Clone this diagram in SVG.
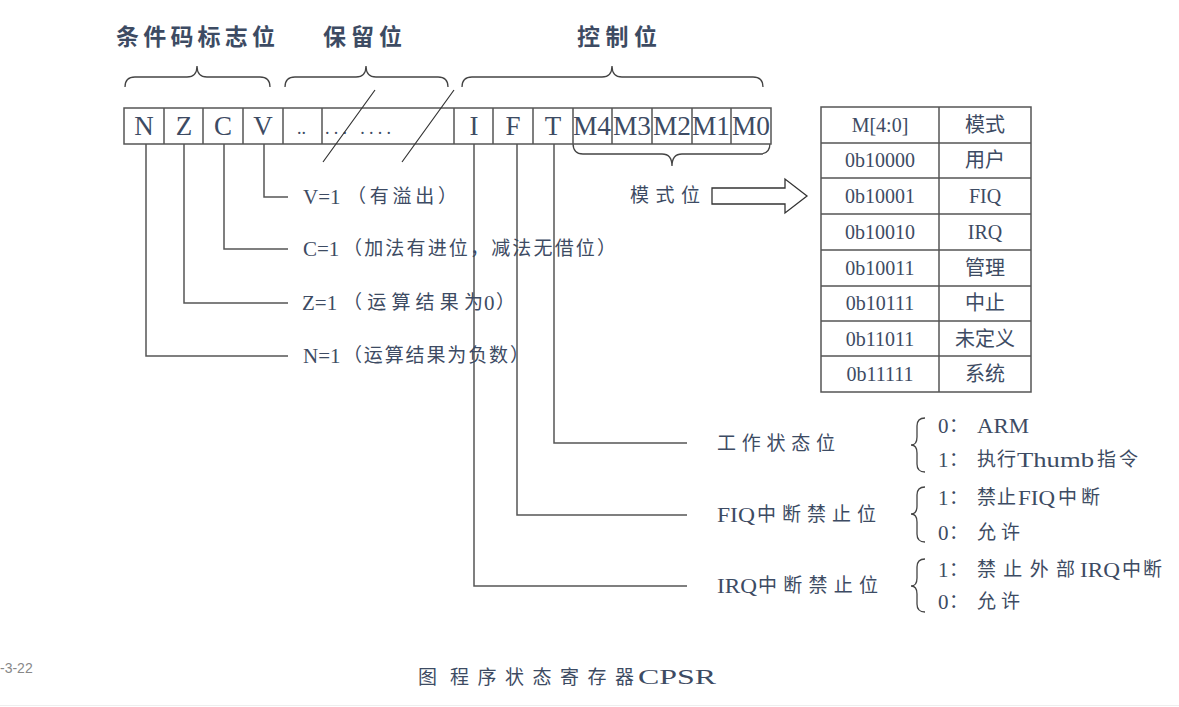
<svg xmlns="http://www.w3.org/2000/svg" width="1179" height="707" viewBox="0 0 1179 707">
<style>
.t{font-family:"Liberation Serif","Noto Sans CJK SC",serif;fill:#3d4b63}
.c{font-family:"Noto Sans CJK SC",sans-serif;fill:#3d4b63;font-size:19px}
.la{font-family:"Liberation Serif",serif;fill:#3d4b63;font-size:21px}
.h{font-family:"Noto Sans CJK SC",sans-serif;font-weight:bold;fill:#3d4b63;font-size:23px}
.cell{fill:#fff;stroke:#555;stroke-width:1.5}
.ln{fill:none;stroke:#555;stroke-width:1.5}
.br{fill:none;stroke:#444;stroke-width:1.3}
.bit{font-size:27px;text-anchor:middle}
.tb{font-size:20px;text-anchor:middle}
</style>
<rect width="1179" height="707" fill="#fff"/>
<g id="headings">
<text class="h" x="116" y="45" textLength="159" lengthAdjust="spacing">条件码标志位</text>
<text class="h" x="323" y="45" textLength="79" lengthAdjust="spacing">保留位</text>
<text class="h" x="577" y="45" textLength="80" lengthAdjust="spacing">控制位</text>
</g>
<g id="braces">
<path class="br" d="M125,87 Q125,77 135,77 H187 Q197,77 197,66 Q197,77 207,77 H260 Q270,77 270,87"/>
<path class="br" d="M285,87 Q285,77 295,77 H356 Q366,77 366,66 Q366,77 376,77 H438 Q448,77 448,87"/>
<path class="br" d="M462,87 Q462,77 472,77 H602 Q612,77 612,66 Q612,77 622,77 H753 Q763,77 763,87"/>
<path class="br" d="M573,143 Q573,154 583,154 H662 Q672,154 672,166 Q672,154 682,154 H760 Q770,154 770,143"/>
</g>
<g id="register">
<rect class="cell" x="124" y="108" width="647" height="36"/>
<path class="ln" d="M164,108V144M203,108V144M243,108V144M283,108V144M322,108V144M454,108V144M493,108V144M533,108V144M573,108V144M612,108V144M652,108V144M692,108V144M731,108V144"/>
<text class="t bit" x="144" y="135">N</text>
<text class="t bit" x="184" y="135">Z</text>
<text class="t bit" x="223" y="135">C</text>
<text class="t bit" x="263" y="135">V</text>
<text class="t" x="297" y="134" font-size="18">..</text>
<text class="t" x="325" y="134" font-size="18" textLength="66" lengthAdjust="spacing">... ....</text>
<text class="t bit" x="474" y="135">I</text>
<text class="t bit" x="513" y="135">F</text>
<text class="t bit" x="553" y="135">T</text>
<text class="t bit" x="592" y="135" textLength="38" lengthAdjust="spacingAndGlyphs">M4</text>
<text class="t bit" x="632" y="135" textLength="38" lengthAdjust="spacingAndGlyphs">M3</text>
<text class="t bit" x="672" y="135" textLength="38" lengthAdjust="spacingAndGlyphs">M2</text>
<text class="t bit" x="711" y="135" textLength="38" lengthAdjust="spacingAndGlyphs">M1</text>
<text class="t bit" x="751" y="135" textLength="38" lengthAdjust="spacingAndGlyphs">M0</text>
<path d="M375,90L323,162M454,90L402,162" stroke="#333" stroke-width="1.2"/>
</g>
<g id="connectors">
<path class="ln" d="M264,144V197H288"/>
<path class="ln" d="M224,144V249H288"/>
<path class="ln" d="M184,144V303H288"/>
<path class="ln" d="M146,144V356H288"/>
<path class="ln" d="M554,144V443H687"/>
<path class="ln" d="M517,144V515H687"/>
<path class="ln" d="M474,144V586H687"/>
</g>
<g id="flag-labels">
<text class="la" x="303" y="204">V=1</text>
<text class="c" x="347" y="203" textLength="110" lengthAdjust="spacing">（有溢出）</text>
<text class="la" x="303" y="256">C=1</text>
<text class="c" x="343" y="255" textLength="273" lengthAdjust="spacing">（加法有进位，减法无借位）</text>
<text class="la" x="302" y="310">Z=1</text>
<text class="c" x="343" y="309" textLength="140" lengthAdjust="spacing">（运算结果为</text>
<text class="la" x="484" y="310">0</text>
<text class="c" x="496" y="309">）</text>
<text class="la" x="303" y="363">N=1</text>
<text class="c" x="343" y="362" textLength="186" lengthAdjust="spacing">（运算结果为负数）</text>
</g>
<g id="mode-arrow">
<text class="c" x="630" y="202" textLength="70" lengthAdjust="spacing">模式位</text>
<path d="M712,188H785V179L807,196L785,213V204H712Z" fill="#fff" stroke="#333" stroke-width="1.3"/>
</g>
<g id="mode-table">
<rect class="cell" x="821" y="107" width="210" height="285"/>
<path class="ln" d="M939,107V392M821,143H1031M821,178H1031M821,214H1031M821,250H1031M821,286H1031M821,321H1031M821,356H1031"/>
<text class="t tb" x="880" y="132">M[4:0]</text><text class="t tb" x="985" y="132">模式</text>
<text class="t tb" x="880" y="167">0b10000</text><text class="t tb" x="985" y="167">用户</text>
<text class="t tb" x="880" y="203">0b10001</text><text class="t tb" x="985" y="203">FIQ</text>
<text class="t tb" x="880" y="239">0b10010</text><text class="t tb" x="985" y="239">IRQ</text>
<text class="t tb" x="880" y="275">0b10011</text><text class="t tb" x="985" y="275">管理</text>
<text class="t tb" x="880" y="310">0b10111</text><text class="t tb" x="985" y="310">中止</text>
<text class="t tb" x="880" y="346">0b11011</text><text class="t tb" x="985" y="346">未定义</text>
<text class="t tb" x="880" y="381">0b11111</text><text class="t tb" x="985" y="381">系统</text>
</g>
<g id="control-labels">
<text class="c" x="717" y="450" textLength="118" lengthAdjust="spacing">工作状态位</text>
<text class="la" x="717" y="522" textLength="38" lengthAdjust="spacingAndGlyphs">FIQ</text>
<text class="c" x="757" y="521" textLength="119" lengthAdjust="spacing">中断禁止位</text>
<text class="la" x="717" y="593" textLength="40" lengthAdjust="spacingAndGlyphs">IRQ</text>
<text class="c" x="758" y="592" textLength="120" lengthAdjust="spacing">中断禁止位</text>
</g>
<g id="value-braces">
<path class="br" d="M925,418 Q917,418 917,426 V437 Q917,445 911,445 Q917,445 917,453 V464 Q917,472 925,472"/>
<path class="br" d="M925,487 Q917,487 917,495 V506 Q917,514 911,514 Q917,514 917,522 V534 Q917,542 925,542"/>
<path class="br" d="M925,559 Q917,559 917,567 V578 Q917,586 911,586 Q917,586 917,594 V604 Q917,612 925,612"/>
<text class="la" x="938" y="433">0</text><text class="c" x="949" y="432">：</text>
<text class="la" x="977" y="433" textLength="52" lengthAdjust="spacingAndGlyphs">ARM</text>
<text class="la" x="938" y="467">1</text><text class="c" x="949" y="466">：</text>
<text class="c" x="977" y="466" letter-spacing="1">执行</text>
<text class="la" x="1017" y="467" textLength="77" lengthAdjust="spacingAndGlyphs">Thumb</text>
<text class="c" x="1097" y="466" letter-spacing="3">指令</text>
<text class="la" x="938" y="505">1</text><text class="c" x="949" y="504">：</text>
<text class="c" x="977" y="504" letter-spacing="1">禁止</text>
<text class="la" x="1018" y="505" textLength="37" lengthAdjust="spacingAndGlyphs">FIQ</text>
<text class="c" x="1058" y="504" letter-spacing="4">中断</text>
<text class="la" x="938" y="540">0</text><text class="c" x="949" y="539">：</text>
<text class="c" x="977" y="539" letter-spacing="5">允许</text>
<text class="la" x="938" y="577">1</text><text class="c" x="949" y="576">：</text>
<text class="c" x="977" y="576" textLength="98" lengthAdjust="spacing">禁止外部</text>
<text class="la" x="1080" y="577" textLength="40" lengthAdjust="spacingAndGlyphs">IRQ</text>
<text class="c" x="1122" y="576" letter-spacing="2">中断</text>
<text class="la" x="938" y="609">0</text><text class="c" x="949" y="608">：</text>
<text class="c" x="977" y="608" letter-spacing="5">允许</text>
</g>
<g id="caption">
<text class="c" x="418" y="684" font-size="23">图</text>
<text class="c" x="450" y="684" font-size="23" textLength="184" lengthAdjust="spacing">程序状态寄存器</text>
<text class="la" x="638" y="684" font-size="25" textLength="78" lengthAdjust="spacingAndGlyphs">CPSR</text>
<text x="0" y="673" font-family="Liberation Sans Narrow,Liberation Sans,sans-serif" font-size="14" fill="#888">-3-22</text>
<line x1="0" y1="705.5" x2="1179" y2="705.5" stroke="#eee" stroke-width="1"/>
</g>
</svg>
